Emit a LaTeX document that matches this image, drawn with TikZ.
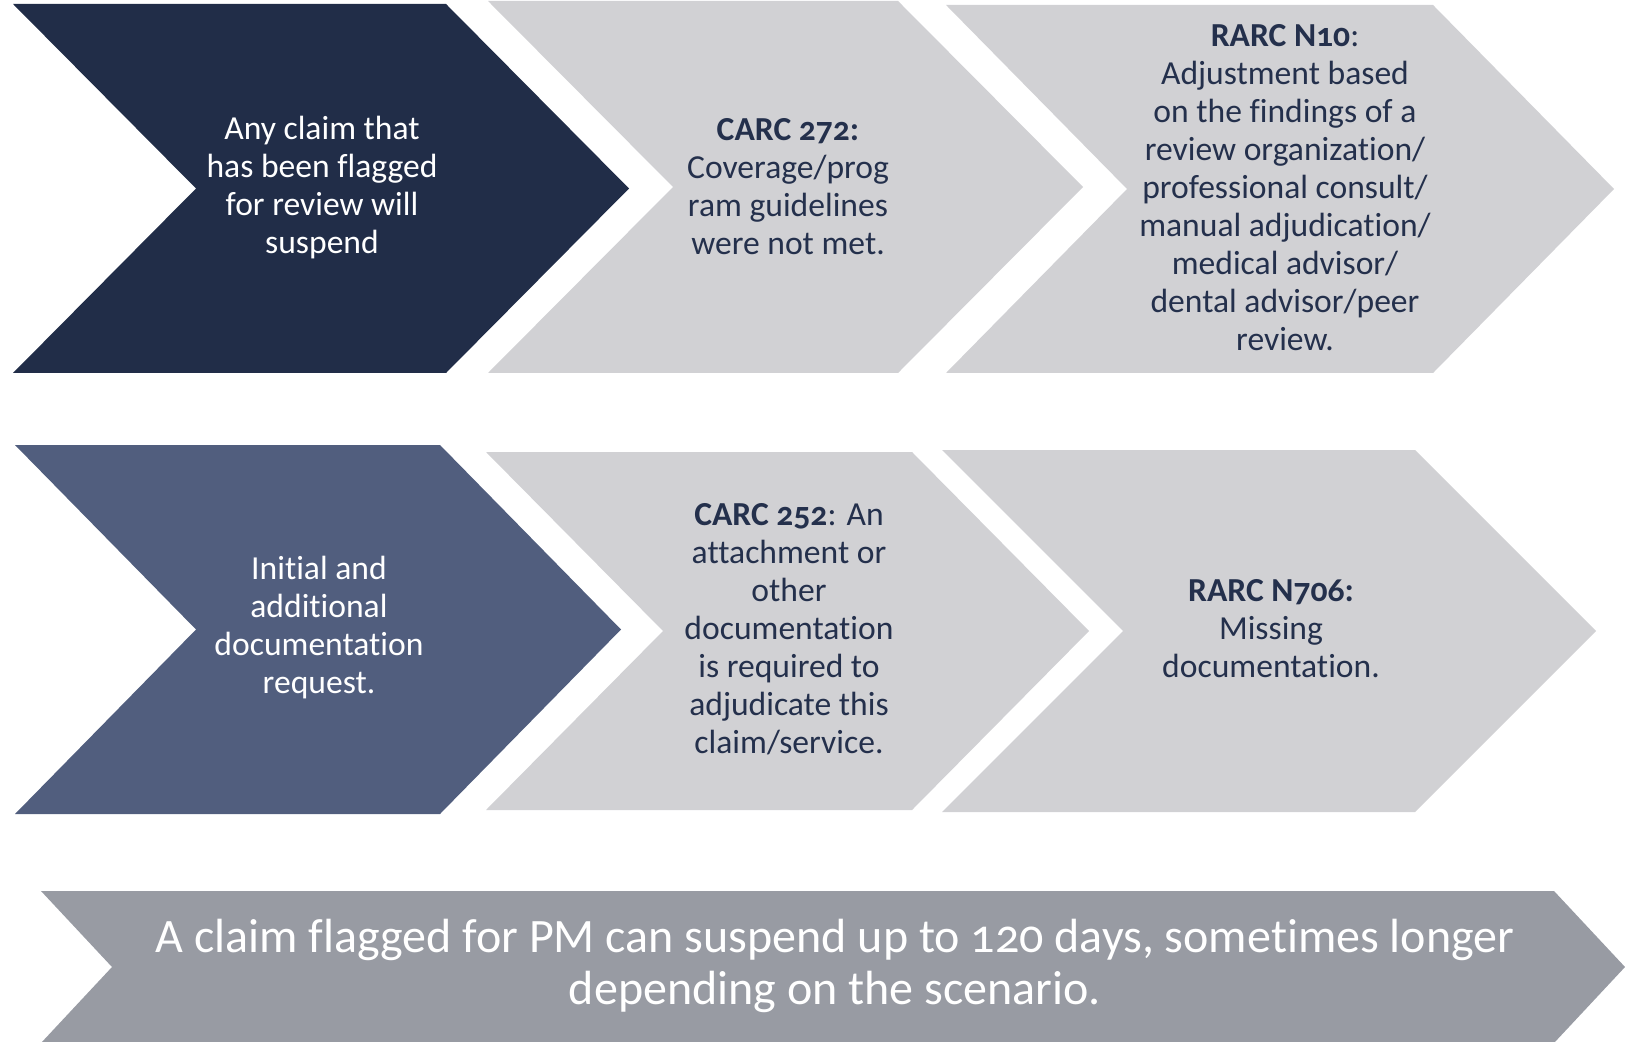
\documentclass[tikz,border=0pt]{standalone}
\usepackage{fontspec}
\setmainfont{Carlito}[Numbers=OldStyle,Ligatures=NoCommon,Contextuals=NoAlternate]
\usepackage{xcolor}

\definecolor{navy}{HTML}{212D48}
\definecolor{slate}{HTML}{515E7E}
\definecolor{lightgrey}{HTML}{D1D1D4}
\definecolor{midgrey}{HTML}{989BA3}
\definecolor{inkblue}{HTML}{24304C}

% chevron: left, top, right, bottom, tip depth, fill colour
\newcommand{\chevron}[6]{%
  \fill[#6] (#1,#2) -- (#3,#2) -- ({#3+#5},{(#2+#4)/2}) -- (#3,#4)
    -- (#1,#4) -- ({#1+#5},{(#2+#4)/2}) -- cycle;}

\begin{document}
\begin{tikzpicture}[x=0.5pt,y=-0.5pt,
    steptext/.style={align=center,inner sep=0pt,font=\fontsize{16.8}{19}\selectfont},
    darktext/.style={steptext,text=white},
    greytext/.style={steptext,text=inkblue}]
            \useasboundingbox (0,0) rectangle (1625,1042);

            % first row
            \chevron{13}{4}{446}{373}{183}{navy}
            \chevron{488}{1}{898}{373}{185}{lightgrey}
            \chevron{946}{5}{1433}{373}{181}{lightgrey}

            \node (flag) at (322,188) [darktext] {Any claim that\\has been flagged\\for review will\\suspend};
            \node (carcA) at (788,187) [greytext] {\textbf{CARC 272:}\\Coverage/prog\\ram guidelines\\were not met.};
            \node (rarcA) at (1285,188) [greytext] {\textbf{RARC N10}:\\Adjustment based\\on the findings of a\\review organization/\\professional consult/\\manual adjudication/\\medical advisor/\\dental advisor/peer\\review.};

            % second row
            \chevron{15}{445}{440}{814}{181}{slate}
            \chevron{486}{452}{912}{810}{177}{lightgrey}
            \chevron{942}{450}{1415}{812}{181}{lightgrey}

            \node (docreq) at (319,628) [darktext] {Initial and\\additional\\documentation\\request.};
            \node (carcB) at (789,629) [greytext] {\textbf{CARC 252}: An\\attachment or\\other\\documentation\\is required to\\adjudicate this\\claim/service.};
            \node (rarcB) at (1271,629) [greytext] {\textbf{RARC N706:}\\Missing\\documentation.};

            % banner along the bottom
            \chevron{41}{891}{1554}{1043}{71}{midgrey}
            \node (note) at (835,966) [align=center,inner sep=0pt,text=white,
                font=\fontsize{24}{26}\selectfont]
                {A claim flagged for PM can suspend up to 120 days, sometimes longer\\depending on the scenario.};

\end{tikzpicture}
\end{document}
